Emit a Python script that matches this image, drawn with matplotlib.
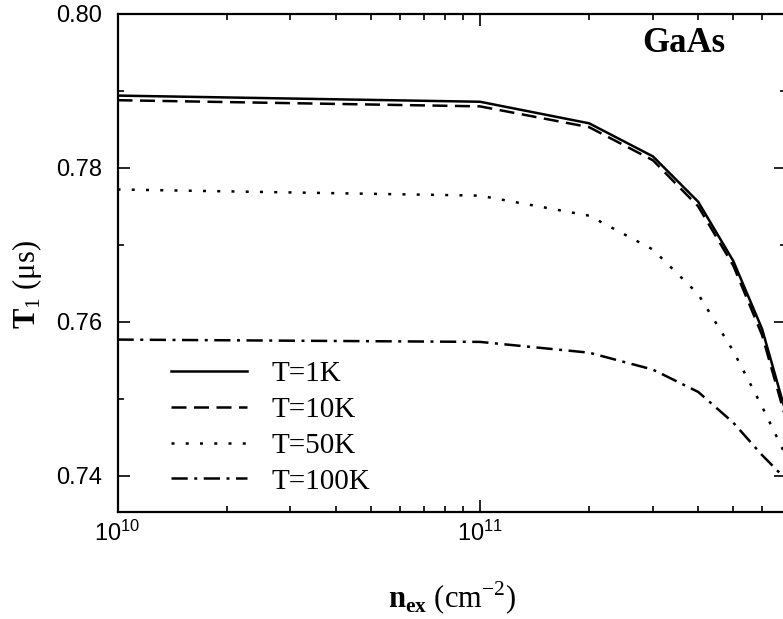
import numpy as np
import matplotlib
matplotlib.use('Agg')
from matplotlib import pyplot as plt
from matplotlib.ticker import FixedLocator, FuncFormatter, MultipleLocator

plt.rcParams['font.family'] = ['Liberation Serif', 'DejaVu Serif']
plt.rcParams['mathtext.fontset'] = 'custom'
plt.rcParams['mathtext.rm'] = 'Liberation Serif'
plt.rcParams['mathtext.bf'] = 'Liberation Serif:bold'
plt.rcParams['mathtext.sf'] = 'Liberation Sans'

# data
n_ex = [1e10, 1e11, 2e11, 3e11, 4e11, 5e11, 6e11, 7e11]
t1_1K = [0.7894, 0.7886, 0.7858, 0.7815, 0.7756, 0.7679, 0.7591, 0.7480]
t1_10K = [0.7888, 0.7880, 0.7853, 0.7810, 0.7750, 0.7673, 0.7583, 0.7472]
t1_50K = [0.7772, 0.7764, 0.7738, 0.7694, 0.7636, 0.7562, 0.7490, 0.7425]
t1_100K = [0.7577, 0.7574, 0.7560, 0.7538, 0.7509, 0.7469, 0.7427, 0.7395]
labels = ['T=1K', 'T=10K', 'T=50K', 'T=100K']
y_ticks = [0.74, 0.76, 0.78, 0.80]

W, H = 783, 619
fig = plt.figure(figsize=(W / 100, H / 100), dpi=100)
# axes run past the right edge of the picture, like the cropped original
ax = fig.add_axes([117.5 / W, (H - 512) / H, 668.8 / W, 498 / H])

lw = 1.8
ax.plot(n_ex, t1_1K, color='black', lw=lw, ls='-', label=labels[0])
ax.plot(n_ex, t1_10K, color='black', lw=lw, ls=(0, (6, 3)), label=labels[1])
ax.plot(n_ex, t1_50K, color='black', lw=lw, ls=(0, (1.2, 4.5)), label=labels[2])
ax.plot(n_ex, t1_100K, color='black', lw=lw, ls=(0, (6.5, 2.6, 1.2, 2.6)), label=labels[3])

ax.set_xscale('log')
ax.set_xlim(1e10, 7e11)
ax.set_ylim(0.7353, 0.80)
ax.yaxis.set_major_locator(FixedLocator(y_ticks))
ax.yaxis.set_minor_locator(MultipleLocator(0.01))
ax.yaxis.set_major_formatter(FuncFormatter(lambda v, p: '%.2f' % v))
ax.xaxis.set_major_formatter(FuncFormatter(
    lambda v, p: r'$\mathsf{10^{%d}}$' % round(np.log10(v))))

for s in ax.spines.values():
    s.set_linewidth(1.6)
ax.tick_params(which='both', direction='in', top=True, right=True, width=1.2)
ax.tick_params(which='major', length=8.5)
ax.tick_params(which='minor', length=4.5)
ax.tick_params(axis='y', which='major', pad=11)
ax.tick_params(axis='x', which='major', pad=6)
for t in ax.get_yticklabels() + ax.get_xticklabels():
    t.set_family('Liberation Sans')
    t.set_fontsize(17)

leg = ax.legend(loc='upper left', bbox_to_anchor=(171 / W, (H - 361) / H),
                bbox_transform=fig.transFigure, frameon=False, fontsize=21,
                handlelength=2.6, handletextpad=0.85, labelspacing=0.32,
                borderpad=0, borderaxespad=0)

fig.text(684 / W, (H - 43) / H, 'GaAs', fontsize=25, fontweight='bold',
         ha='center', va='center')
fig.text(27 / W, (H - 285) / H, r'$\mathbf{T}_1$ (μs)', fontsize=22,
         rotation=90, ha='center', va='center')
fig.text(452 / W, (H - 598) / H, r'$\mathbf{n}_{\mathbf{ex}}$ (cm$^{-2}$)',
         fontsize=22, ha='center', va='center')

plt.savefig('out.png', dpi=100)
